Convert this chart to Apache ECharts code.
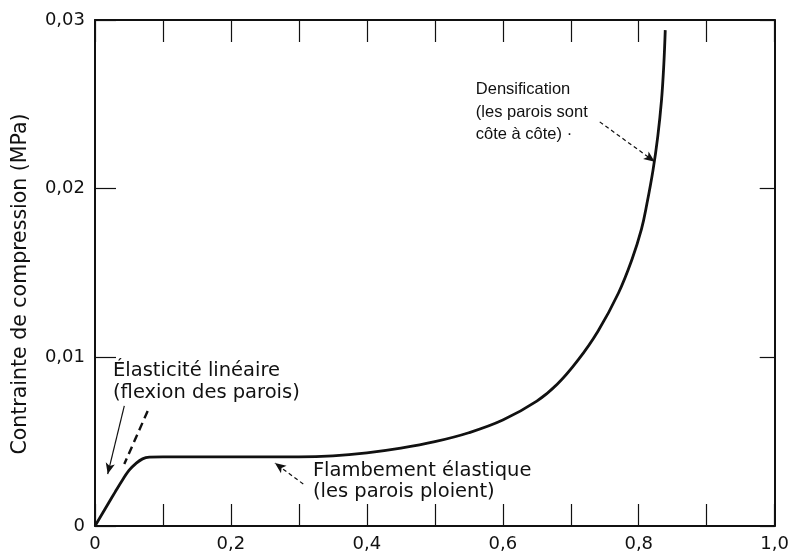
<!DOCTYPE html>
<html>
<head>
<meta charset="utf-8">
<script src="https://cdn.jsdelivr.net/npm/echarts@6/dist/echarts.min.js"></script>
<style>
  html, body { margin: 0; padding: 0; background: #fff; }
  #chart { width: 792px; height: 553px; }
</style>
</head>
<body>
<div id="chart"></div>
<script>
// Compressive stress–strain curve of an elastomeric foam
const strain = [0, 0.01, 0.02, 0.03, 0.04, 0.05, 0.06, 0.07, 0.08, 0.10, 0.15, 0.20, 0.25, 0.30, 0.35,
  0.40, 0.45, 0.50, 0.55, 0.60, 0.65, 0.68, 0.71, 0.74, 0.77, 0.79, 0.804, 0.812, 0.821, 0.828, 0.8334, 0.8368, 0.839];
const stress = [0, 0.00068, 0.00136, 0.00204, 0.0027, 0.0033, 0.0037, 0.00398, 0.00408, 0.0041, 0.0041, 0.0041, 0.0041, 0.0041, 0.00416,
  0.00434, 0.00462, 0.00500, 0.00553, 0.00628, 0.0074, 0.0084, 0.0098, 0.01155, 0.0138, 0.0158, 0.0176, 0.0191, 0.0211, 0.0231, 0.0252, 0.0273, 0.0294];

const xTickLabels = ['0', '0,2', '0,4', '0,6', '0,8', '1,0'];
const yTickLabels = ['0', '0,01', '0,02', '0,03'];
const yAxisTitle = 'Contrainte de compression (MPa)';

// Annotation texts and their leader lines, in data coordinates
const noteTexts = [
  'Densification\n(les parois sont\ncôte à côte) ·',
  'Élasticité linéaire\n(flexion des parois)',
  'Flambement élastique\n(les parois ploient)'
];
const noteAnchors = [[0.5603, 0.02652], [0.0265, 0.00985], [0.3206, 0.00388]];
const noteFonts = [
  { fontFamily: 'Liberation Sans', fontSize: 16.5, lineHeight: 22.5 },
  { fontFamily: 'DejaVu Sans', fontSize: 19.5, lineHeight: 22 },
  { fontFamily: 'DejaVu Sans', fontSize: 19.5, lineHeight: 21 }
];

const INK = '#111';
const curve = strain.map((x, i) => [x, stress[i]]);

function arrow(from, to, style, head) {
  return [
    { coord: from, symbol: 'none' },
    { coord: to, symbol: head ? 'arrow' : 'none', symbolSize: [7, 11], lineStyle: style }
  ];
}

const leaders = [
  arrow([0.7426, 0.02396], [0.8235, 0.02160], { color: INK, width: 1.2, type: [4, 3] }, true),
  arrow([0.0431, 0.00712], [0.0187, 0.00308], { color: INK, width: 1.2, type: 'solid' }, true),
  arrow([0.0775, 0.00682], [0.0431, 0.00367], { color: INK, width: 2.4, type: [8, 5] }, false),
  arrow([0.3064, 0.00249], [0.2647, 0.00373], { color: INK, width: 1.2, type: [4, 3] }, true)
];

const tickFont = { fontFamily: 'DejaVu Sans', fontSize: 18, color: INK };
const frameLine = { onZero: false, lineStyle: { color: INK, width: 2 } };

const option = {
  animation: false,
  backgroundColor: '#fff',
  grid: { left: 95, right: 17, top: 20, bottom: 26 },
  xAxis: [
    {
      type: 'value', min: 0, max: 1, interval: 0.1, position: 'bottom',
      axisLine: frameLine,
      axisTick: { inside: true, length: 22, lineStyle: { color: INK, width: 1.2 } },
      axisLabel: Object.assign({
        margin: 9,
        formatter: v => {
          const k = Math.round(v * 10);
          return k % 2 === 0 ? xTickLabels[k / 2] : '';
        }
      }, tickFont),
      splitLine: { show: false }
    },
    {
      type: 'value', min: 0, max: 1, interval: 0.1, position: 'top',
      axisLine: frameLine,
      axisTick: { inside: true, length: 22, lineStyle: { color: INK, width: 1.2 } },
      axisLabel: { show: false },
      splitLine: { show: false }
    }
  ],
  yAxis: [
    {
      type: 'value', min: 0, max: 0.03, interval: 0.01, position: 'left',
      name: yAxisTitle, nameLocation: 'middle', nameGap: 64, nameRotate: 90,
      nameTextStyle: { fontFamily: 'DejaVu Sans', fontSize: 20.5, color: INK, padding: [0, 22, 0, 0] },
      axisLine: frameLine,
      axisTick: { inside: true, length: 21, lineStyle: { color: INK, width: 1.2 } },
      axisLabel: Object.assign({
        margin: 10,
        formatter: v => yTickLabels[Math.round(v * 100)]
      }, tickFont),
      splitLine: { show: false }
    },
    {
      type: 'value', min: 0, max: 0.03, interval: 0.01, position: 'right',
      axisLine: frameLine,
      axisTick: { inside: true, length: 15, lineStyle: { color: INK, width: 1.2 } },
      axisLabel: { show: false },
      splitLine: { show: false }
    }
  ],
  series: [
    {
      type: 'line', xAxisIndex: 0, yAxisIndex: 0,
      data: curve, showSymbol: false, smooth: 0.4,
      lineStyle: { color: INK, width: 2.8 },
      silent: true
    },
    {
      type: 'line', xAxisIndex: 0, yAxisIndex: 0, data: [], silent: true,
      markLine: {
        silent: true, animation: false,
        label: { show: false },
        emphasis: { disabled: true },
        data: leaders
      }
    }
  ]
};

const chart = echarts.init(document.getElementById('chart'), null, { renderer: 'canvas' });
chart.setOption(option);

// Place the annotation blocks at their data anchors
const graphics = noteTexts.map((t, i) => {
  const p = chart.convertToPixel({ xAxisIndex: 0, yAxisIndex: 0 }, noteAnchors[i]);
  return {
    type: 'text', x: p[0], y: p[1], silent: true,
    style: Object.assign({ text: t, fill: INK, align: 'left', verticalAlign: 'top' }, noteFonts[i])
  };
});
chart.setOption({ graphic: graphics });
</script>
</body>
</html>
